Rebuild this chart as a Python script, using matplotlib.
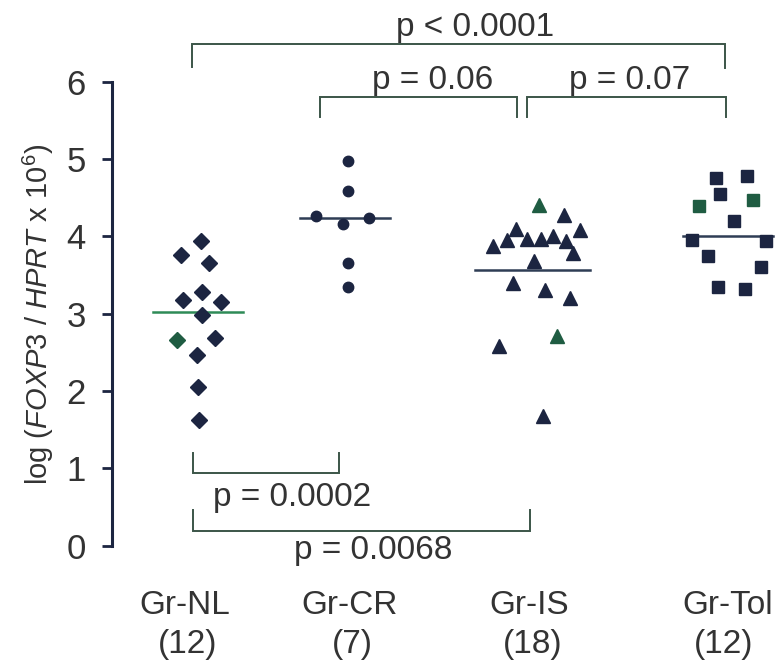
import matplotlib
matplotlib.use("Agg")
import matplotlib.pyplot as plt

plt.rcParams['font.family'] = ['Liberation Sans', 'DejaVu Sans']
plt.rcParams['mathtext.fontset'] = 'custom'
plt.rcParams['mathtext.rm'] = 'Liberation Sans'
plt.rcParams['mathtext.it'] = 'Liberation Sans:italic'

# ---- data ----
groups = ["Gr-NL", "Gr-CR", "Gr-IS", "Gr-Tol"]
counts = ["(12)", "(7)", "(18)", "(12)"]

nl_values = [3.94, 3.76, 3.66, 3.28, 3.17, 3.15, 2.98, 2.66, 2.68, 2.47, 2.05, 1.63]
nl_jitter = [0.03, -0.17, 0.11, 0.04, -0.15, 0.23, 0.04, -0.21, 0.17, -0.01, 0.0, 0.01]
nl_median = 3.02

cr_values = [4.97, 4.58, 4.26, 4.24, 4.16, 3.65, 3.34]
cr_jitter = [0.03, 0.03, -0.29, 0.24, -0.02, 0.03, 0.03]
cr_median = 4.24

is_values = [4.41, 4.28, 4.09, 4.08, 4.01, 3.95, 3.97, 3.96, 3.94, 3.87, 3.78, 3.68,
             3.39, 3.30, 3.20, 2.71, 2.58, 1.68]
is_jitter = [0.07, 0.32, -0.16, 0.48, 0.21, -0.25, -0.05, 0.09, 0.34, -0.39, 0.41, 0.02,
             -0.19, 0.13, 0.38, 0.25, -0.33, 0.11]
is_median = 3.56

tol_values = [4.75, 4.78, 4.55, 4.47, 4.39, 4.20, 3.95, 3.94, 3.74, 3.60, 3.34, 3.32]
tol_jitter = [-0.12, 0.19, -0.08, 0.25, -0.29, 0.06, -0.36, 0.38, -0.20, 0.33, -0.10, 0.17]
tol_median = 4.00

p_labels = ["p < 0.0001", "p = 0.06", "p = 0.07", "p = 0.0002", "p = 0.0068"]

# ---- layout (x in units of 100 px) ----
centers = [1.98, 3.45, 5.32, 7.28]
label_x = [1.85, 3.50, 5.29, 7.28]
count_x = [1.88, 3.52, 5.33, 7.24]
median_half = [0.45, 0.45, 0.575, 0.45]

W, H = 778, 666
fig = plt.figure(figsize=(W / 100, H / 100), dpi=100)
ax_left = 112
ax = fig.add_axes([ax_left / W, 0, 1 - ax_left / W, 1])
ppu = 77.32
y0px = 545.6
ax.set_ylim(-(H - y0px) / ppu, y0px / ppu)
ax.set_xlim(ax_left / 100, W / 100)

navy = '#1c2541'
green = '#1f5c42'
lgreen = '#2e8b57'
bcol = '#3b5548'
tcol = '#333333'

series = [
    (nl_values, nl_jitter, nl_median, 'D', 8.5),
    (cr_values, cr_jitter, cr_median, 'o', 7.5),
    (is_values, is_jitter, is_median, '^', 10.0),
    (tol_values, tol_jitter, tol_median, 's', 8.5),
]
green_pts = {(2, 0), (2, 15), (3, 4), (3, 3), (0, 7)}
median_cols = [lgreen, '#2f3d55', '#2f3d55', '#2f3d55']

for gi, (vals, jit, med, mk, ms) in enumerate(series):
    c = centers[gi]
    ax.plot([c - median_half[gi], c + median_half[gi]], [med, med],
            color=median_cols[gi], lw=1.8, zorder=2)
    for pi, (v, j) in enumerate(zip(vals, jit)):
        col = green if (gi, pi) in green_pts else navy
        ax.plot(c + j, v, marker=mk, ms=ms, color=col, mec=col, ls='none', zorder=3)

# axes styling
for s in ['top', 'right', 'bottom']:
    ax.spines[s].set_visible(False)
ax.spines['left'].set_bounds(0, 6)
ax.spines['left'].set_color(navy)
ax.spines['left'].set_linewidth(2.2)
ax.set_yticks(range(0, 7))
ax.tick_params(axis='y', direction='out', length=7, width=2, color=navy,
               labelsize=25, labelcolor=tcol, pad=12)
ax.set_xticks([])

fs = 24
# brackets
def bracket(x1, x2, ybar, yleg1, yleg2):
    ax.plot([x1, x1, x2, x2], [yleg1, ybar, ybar, yleg2], color=bcol, lw=1.4,
            clip_on=False, solid_joinstyle='miter')

bracket(1.92, 7.25, 6.49, 6.19, 6.18)
ax.text(4.75, 6.70, p_labels[0], ha='center', va='center', fontsize=fs, color=tcol)
bracket(3.20, 5.17, 5.80, 5.54, 5.54)
ax.text(4.33, 6.02, p_labels[1], ha='center', va='center', fontsize=fs, color=tcol)
bracket(5.27, 7.26, 5.80, 5.54, 5.54)
ax.text(6.30, 6.02, p_labels[2], ha='center', va='center', fontsize=fs, color=tcol)
bracket(1.93, 3.39, 0.94, 1.20, 1.20)
ax.text(2.92, 0.62, p_labels[3], ha='center', va='center', fontsize=fs, color=tcol)
bracket(1.93, 5.30, 0.19, 0.46, 0.46)
ax.text(3.73, -0.06, p_labels[4], ha='center', va='center', fontsize=fs, color=tcol)

# category labels
for i in range(4):
    ax.text(label_x[i], -(605 - y0px) / ppu, groups[i], ha='center', va='center',
            fontsize=fs, color=tcol, clip_on=False)
    ax.text(count_x[i], -(645 - y0px) / ppu, counts[i], ha='center', va='center',
            fontsize=fs, color=tcol, clip_on=False)

fig.text(38 / W, 1 - 314 / H, r"log ($\mathit{FOXP3}$ / $\mathit{HPRT}$ x 10$^{6}$)",
         rotation=90, ha='center', va='center', fontsize=21, color=tcol)

fig.savefig("out.png", dpi=100, facecolor='white')
